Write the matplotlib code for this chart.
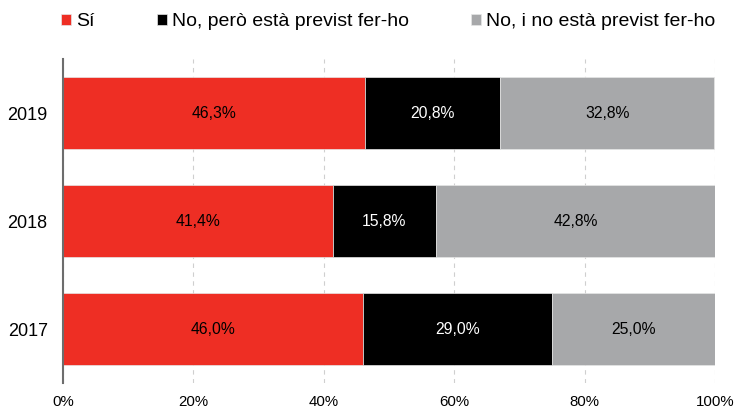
import matplotlib.pyplot as plt
from matplotlib import rcParams
import numpy as np

rcParams['font.family'] = ['Liberation Sans', 'DejaVu Sans']

years = ['2017', '2018', '2019']
si = [46.0, 41.4, 46.3]
no_previst = [29.0, 15.8, 20.8]
no_no_previst = [25.0, 42.8, 32.8]
series_names = ['Sí', 'No, però està previst fer-ho', 'No, i no està previst fer-ho']
colors = ['#ee2e24', '#000000', '#a7a8aa']
text_colors = ['black', 'white', 'black']
xticks = [0, 20, 40, 60, 80, 100]

fig = plt.figure(figsize=(7.37, 4.08), dpi=100)
ax = fig.add_axes([63/737, 25/408, (715-63)/737, (383-59)/408])

y = np.arange(len(years))
left = np.zeros(len(years))
handles = []
for vals, name, c, tc in zip([si, no_previst, no_no_previst], series_names, colors, text_colors):
    bars = ax.barh(y, vals, left=left, height=0.665, color=c, label=name, zorder=2,
                   edgecolor='#e6e6e6', linewidth=0.5)
    for yi, l, v in zip(y, left, vals):
        ax.text(l + v/2, yi, f'{v:.1f}%'.replace('.', ','), ha='center', va='center',
                color=tc, fontsize=11.3, zorder=3)
    left += np.array(vals)
    handles.append(bars)

ax.set_xlim(0, 100)
ax.set_ylim(-0.5, 2.5)
ax.set_yticks(y)
ax.set_yticklabels(years, fontsize=13)
ax.set_xticks(xticks)
ax.set_xticklabels([f'{t}%' for t in xticks], fontsize=10.8)
ax.tick_params(axis='both', length=0)
ax.tick_params(axis='y', pad=11)
ax.tick_params(axis='x', pad=8.5)
ax.xaxis.grid(True, color='#cfcfcf', linestyle=(0, (4, 4)), linewidth=0.8, zorder=0)
ax.set_axisbelow(True)
for s in ['top', 'right', 'bottom']:
    ax.spines[s].set_visible(False)
ax.spines['left'].set_color('#6d6d6d')
ax.spines['left'].set_linewidth(1.5)
ax.spines['left'].set_zorder(4)

fig.legend(handles=handles, loc='center left', bbox_to_anchor=(61/737, 1 - 22/408),
           ncol=3, frameon=False, fontsize=14, handlelength=0.52, handleheight=0.52,
           handletextpad=0.26, columnspacing=3.2, borderaxespad=0, borderpad=0)

plt.savefig('out.png', dpi=100)
